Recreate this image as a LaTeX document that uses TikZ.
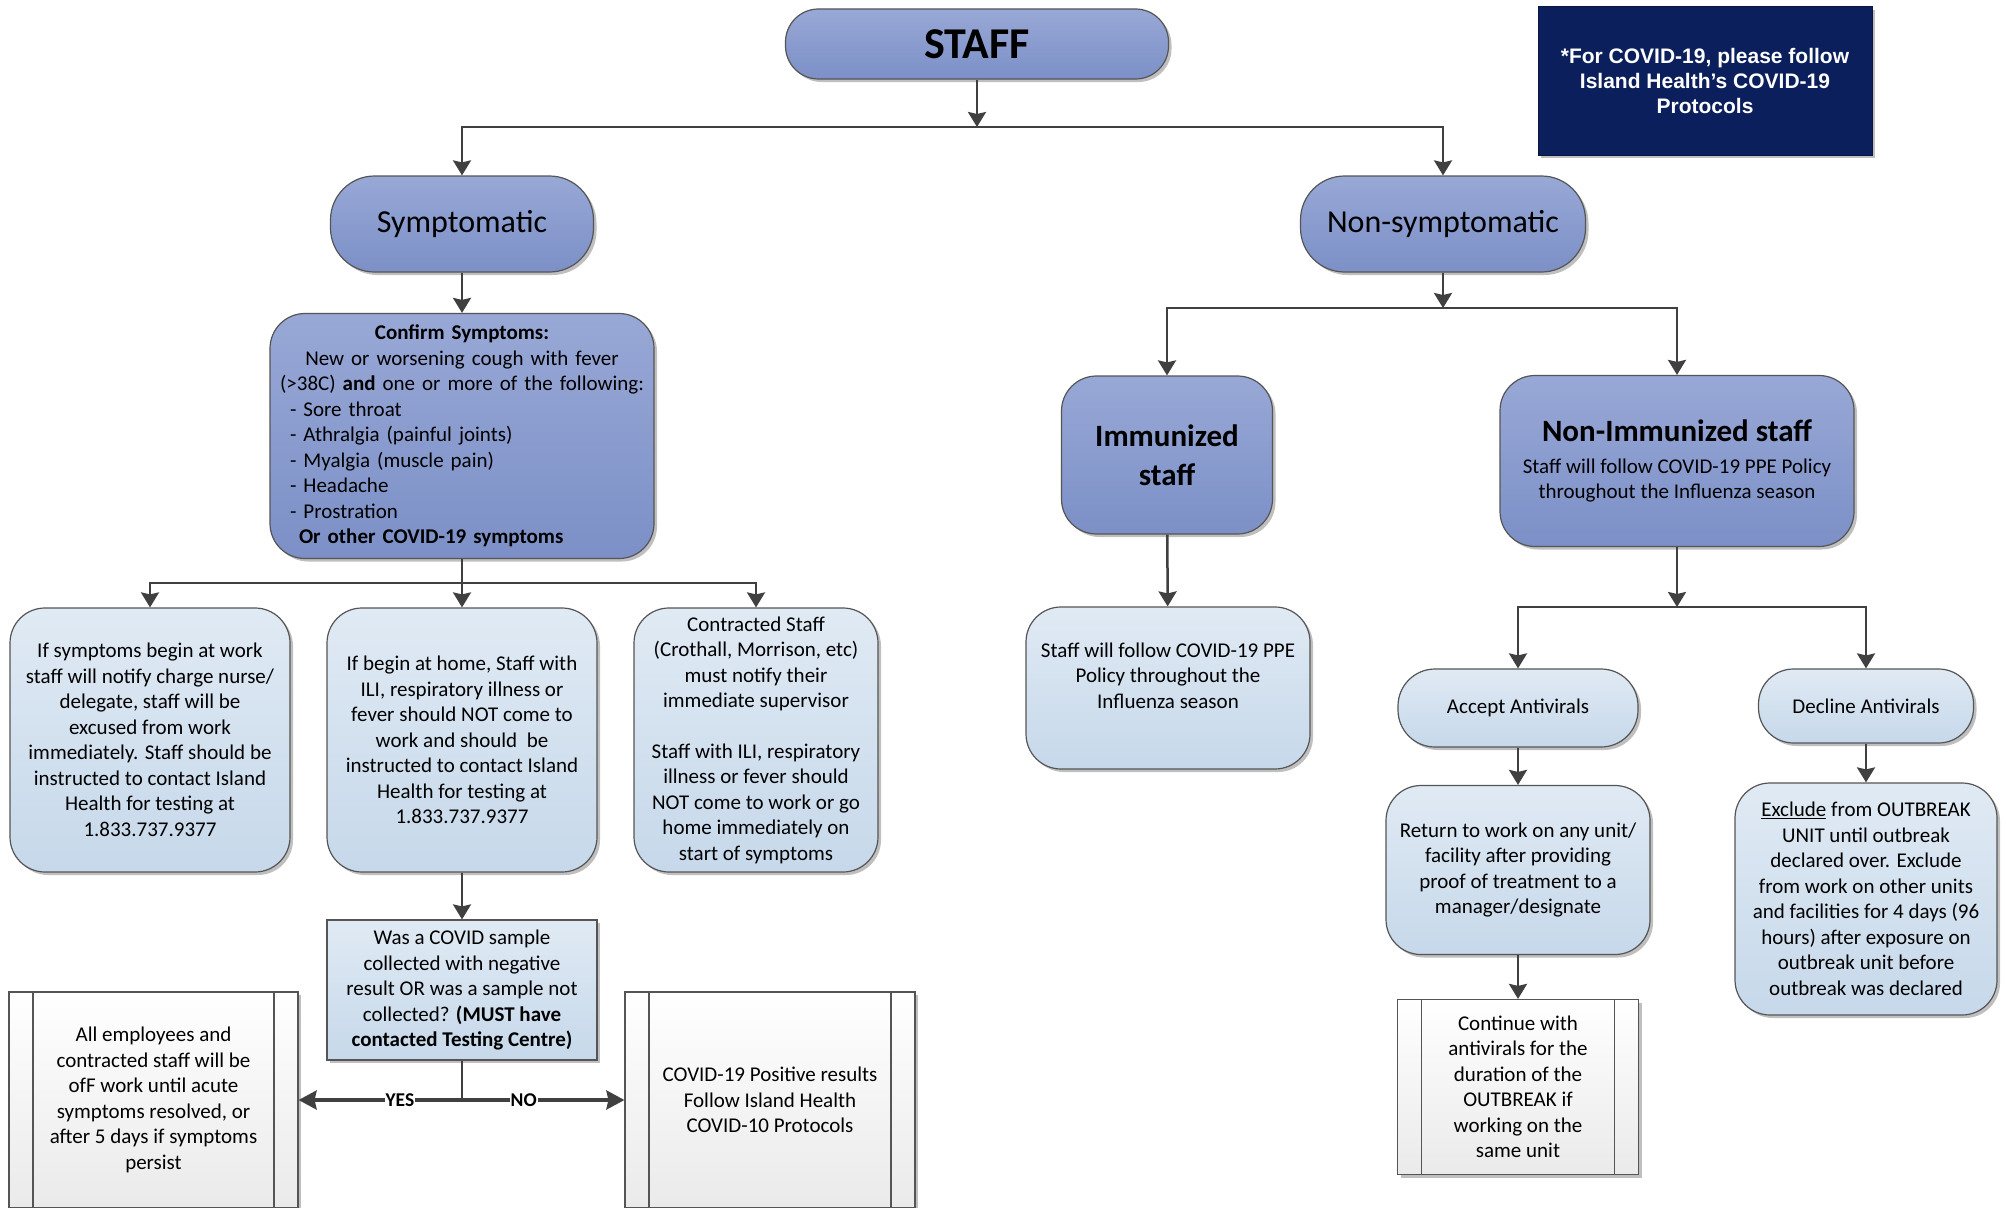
\documentclass[tikz,border=0pt]{standalone}
\usepackage{fontspec}
\setmainfont{Carlito}
\newfontfamily\notefont{Liberation Sans}
\usepackage{xcolor}
\usetikzlibrary{arrows.meta}
\usetikzlibrary{shadows}
\definecolor{linegrey}{HTML}{404040}
\definecolor{framegrey}{HTML}{555555}
\definecolor{bluetop}{HTML}{98A8D6}
\definecolor{bluebot}{HTML}{7C90C7}
\definecolor{paletop}{HTML}{E0EAF4}
\definecolor{palebot}{HTML}{C6D8EA}
\definecolor{greytop}{HTML}{FFFFFF}
\definecolor{greybot}{HTML}{EAEAEA}
\definecolor{navy}{HTML}{0B1F5C}
\newcommand\boxfont{\fontsize{21}{25.5}\selectfont}
\newcommand\headfont{\fontsize{31}{39}\selectfont\bfseries}
\tikzstyle{flowhead}=[>/.tip={Stealth[length=15pt,width=18pt,inset=2pt]}]
\tikzstyle{flowline}=[line width=2.5pt,linegrey]
\tikzstyle{flow}=[flowline,flowhead,->]
\tikzstyle{answer}=[flow,line width=3.2pt,>/.tip={Stealth[length=18pt,width=19pt,inset=2pt]}]
\tikzstyle{yesno}=[fill=white,inner sep=1pt,text=black,font=\fontsize{19.5}{22}\selectfont\bfseries]
\tikzstyle{boxshadow}=[drop shadow={shadow xshift=3pt,shadow yshift=-3pt,opacity=.25,fill=black}]
\tikzstyle{flowbox}=[draw=framegrey,line width=1.2pt,inner sep=4pt,align=center,font=\boxfont,boxshadow]
\tikzstyle{bluebox}=[flowbox,top color=bluetop,bottom color=bluebot,rounded corners=35pt]
\tikzstyle{palebox}=[flowbox,top color=paletop,bottom color=palebot,rounded corners=35pt]
\tikzstyle{procbox}=[flowbox,top color=greytop,bottom color=greybot,
  path picture={\draw[framegrey,line width=1.2pt]
    ([xshift=24pt]path picture bounding box.north west) -- ([xshift=24pt]path picture bounding box.south west)
    ([xshift=-24pt]path picture bounding box.north east) -- ([xshift=-24pt]path picture bounding box.south east);}]

\begin{document}
\begin{tikzpicture}[x=1pt,y=-1pt]
\path[use as bounding box,fill=white] (0,0) rectangle (2007,1207);

\node[bluebox,minimum width=383pt,minimum height=70pt,rounded corners=33pt,font=\fontsize{44}{50}\selectfont\bfseries] (staff) at (977,44) {STAFF};
\node[fill=navy,draw=navy!70!black,line width=1pt,boxshadow,minimum width=334pt,minimum height=148pt,align=center,text=white,
  font=\notefont\bfseries\fontsize{21}{25}\selectfont] (note) at (1705,81)
  {*For COVID-19, please follow\\Island Health’s COVID-19\\Protocols};

\node[bluebox,minimum width=263pt,minimum height=96pt,rounded corners=44pt,font=\fontsize{32}{36}\selectfont] (symp) at (462,224) {Symptomatic};
\node[bluebox,minimum width=285pt,minimum height=96pt,rounded corners=44pt,font=\fontsize{32}{36}\selectfont] (nonsymp) at (1443,224) {Non-symptomatic};

\node[bluebox,minimum width=384pt,minimum height=245pt,text width=372pt] (confirm) at (462,436)
  {\centering\textbf{Confirm Symptoms:}\\New or worsening cough with fever\\(>38C) \textbf{and} one or more of the following:\par
   \raggedright\leftskip=14pt - Sore throat\\- Athralgia (painful joints)\\- Myalgia (muscle pain)\\- Headache\\- Prostration\\
   \hspace*{9pt}\textbf{Or other COVID-19 symptoms}\par};

\node[palebox,minimum width=280pt,minimum height=264pt] (atwork) at (150,740)
  {If symptoms begin at work\\staff will notify charge nurse/\\delegate, staff will be\\excused from work\\immediately. Staff should be\\instructed to contact Island\\Health for testing at\\1.833.737.9377};
\node[palebox,minimum width=270pt,minimum height=264pt] (athome) at (462,740)
  {If begin at home, Staff with\\ILI, respiratory illness or\\fever should NOT come to\\work and should\ \ be\\instructed to contact Island\\Health for testing at\\1.833.737.9377};
\node[palebox,minimum width=244pt,minimum height=264pt] (contract) at (756,740)
  {Contracted Staff\\(Crothall, Morrison, etc)\\must notify their\\immediate supervisor\\[25pt]Staff with ILI, respiratory\\illness or fever should\\NOT come to work or go\\home immediately on\\start of symptoms};

\node[palebox,rounded corners=0pt,minimum width=270pt,minimum height=140pt] (sample) at (462,990)
  {Was a COVID sample\\collected with negative\\result OR was a sample not\\collected? \textbf{(MUST have}\\\textbf{contacted Testing Centre)}};
\node[procbox,minimum width=289pt,minimum height=216pt] (offwork) at (153.5,1100)
  {All employees and\\contracted staff will be\\ofF work until acute\\symptoms resolved, or\\after 5 days if symptoms\\persist};
\node[procbox,minimum width=290pt,minimum height=216pt] (positive) at (770,1100)
  {COVID-19 Positive results\\Follow Island Health\\COVID-10 Protocols};

\node[bluebox,minimum width=211pt,minimum height=158pt,font=\headfont] (immun) at (1167,455) {Immunized\\staff};
\node[bluebox,minimum width=354pt,minimum height=171pt] (nonimmun) at (1677,461)
  {{\headfont Non-Immunized staff}\\[6pt]Staff will follow COVID-19 PPE Policy\\throughout the Influenza season};
\node[palebox,minimum width=284pt,minimum height=162pt] (ppe) at (1168,688)
  {Staff will follow COVID-19 PPE\\Policy throughout the\\Influenza season\\};

\node[palebox,minimum width=240pt,minimum height=78pt,rounded corners=37pt] (accept) at (1518,708) {Accept Antivirals};
\node[palebox,minimum width=215pt,minimum height=74pt,rounded corners=35pt] (decline) at (1866,706) {Decline Antivirals};
\node[palebox,minimum width=264pt,minimum height=169pt] (return) at (1518,870)
  {Return to work on any unit/\\facility after providing\\proof of treatment to a\\manager/designate};
\node[procbox,minimum width=241pt,minimum height=175pt] (continue) at (1518,1087)
  {Continue with\\antivirals for the\\duration of the\\OUTBREAK if\\working on the\\same unit};
\node[palebox,minimum width=262pt,minimum height=232pt] (exclude) at (1866,899)
  {\underline{Exclude} from OUTBREAK\\UNIT until outbreak\\declared over. Exclude\\from work on other units\\and facilities for 4 days (96\\hours) after exposure on\\outbreak unit before\\outbreak was declared};

\coordinate (fork1) at (977,127);
\coordinate (fork2) at (462,583);
\coordinate (fork3) at (1443,308);
\coordinate (fork4) at (1677,607);
\coordinate (fork5) at (462,1100);

\draw[flow] (staff) -- (fork1);
\draw[flow] (fork1) -| (symp);
\draw[flow] (fork1) -| (nonsymp);
\draw[flow] (symp) -- (confirm);
\draw[flow] (confirm) -- (athome);
\draw[flow] (fork2) -| (atwork);
\draw[flow] (fork2) -| (contract);
\draw[flow] (athome) -- (sample);
\draw[flowline] (sample) -- (fork5);
\draw[answer] (fork5) -- node[yesno,pos=.38]{YES} (offwork);
\draw[answer] (fork5) -- node[yesno,pos=.38]{NO} (positive);
\draw[flow] (nonsymp) -- (fork3);
\draw[flow] (fork3) -| (immun);
\draw[flow] (fork3) -| (nonimmun);
\draw[flow] (immun) -- (ppe);
\draw[flow] (nonimmun) -- (fork4);
\draw[flow] (fork4) -| (accept);
\draw[flow] (fork4) -| (decline);
\draw[flow] (accept) -- (return);
\draw[flow] (return) -- (continue);
\draw[flow] (decline) -- (exclude);
\end{tikzpicture}
\end{document}
